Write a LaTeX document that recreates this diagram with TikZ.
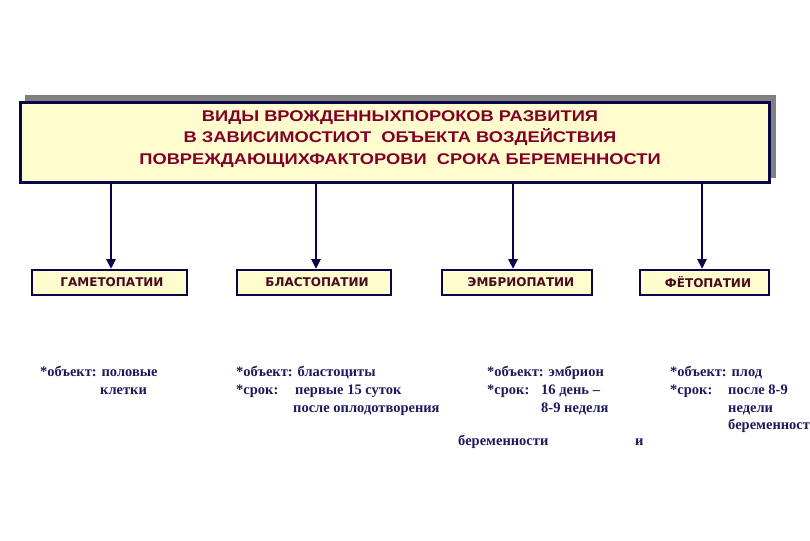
\documentclass[tikz,border=0pt]{standalone}
\usepackage{fontspec}
\setmainfont{Liberation Serif}
\newfontfamily\titlefont[FakeStretch=1.18]{Liberation Sans}
\newfontfamily\boxfont{DejaVu Sans}
\usetikzlibrary{arrows.meta}
\definecolor{navy}{HTML}{0A0548}
\definecolor{paleyel}{HTML}{FFFDCD}
\definecolor{titlered}{HTML}{800028}
\definecolor{boxtext}{HTML}{4A0A20}
\definecolor{bodytext}{HTML}{1C1A5C}
\definecolor{shadowgray}{HTML}{808080}
\tikzset{
  mainbox/.style={draw=navy, fill=paleyel, line width=3pt, minimum width=749pt, minimum height=80pt, inner sep=0pt},
  kindbox/.style={draw=navy, fill=paleyel, line width=2pt, minimum height=25pt, inner sep=0pt,
    font=\boxfont\bfseries\fontsize{12}{14}\selectfont, text=boxtext},
  titletext/.style={align=center, text=titlered, font=\titlefont\bfseries\fontsize{15.5}{21.5}\selectfont},
  body/.style={anchor=base west, inner sep=0pt, text=bodytext, font=\bfseries\fontsize{14.5}{18}\selectfont},
  link/.style={draw=navy, line width=2.8pt, -{Triangle[width=9pt,length=10pt]}}
}
\begin{document}
\begin{tikzpicture}[x=1pt,y=-1pt]
\path[use as bounding box, fill=white] (0,0) rectangle (810,540);
% shadow
\fill[shadowgray] (25,95) rectangle (776,178);
% main box
\node[mainbox] (main) at (395,142.5) {};
\node[titletext] (title) at (400,139) {ВИДЫ ВРОЖДЕННЫХПОРОКОВ РАЗВИТИЯ\\В ЗАВИСИМОСТИОТ\ \ ОБЪЕКТА ВОЗДЕЙСТВИЯ\\ПОВРЕЖДАЮЩИХФАКТОРОВИ\ \ СРОКА БЕРЕМЕННОСТИ};
% kind boxes
\node[kindbox, minimum width=155pt] (g) at (109.5,282.5) {\raisebox{-1.5pt}{\hspace*{5pt}ГАМЕТОПАТИИ}};
\node[kindbox, minimum width=154pt] (b) at (314,282.5) {\raisebox{-1.5pt}{\hspace*{6pt}БЛАСТОПАТИИ}};
\node[kindbox, minimum width=150pt] (e) at (517,282.5) {\raisebox{-1.5pt}{\hspace*{8pt}ЭМБРИОПАТИИ}};
\node[kindbox, minimum width=129pt] (f) at (704.5,282.5) {\raisebox{-1.5pt}{\hspace*{7pt}ФЁТОПАТИИ}};
% arrow starts
\coordinate (s1) at (111,184);
\coordinate (s2) at (316,184);
\coordinate (s3) at (513,184);
\coordinate (s4) at (702,184);
\draw[link] (s1) -- (s1 |- g.north);
\draw[link] (s2) -- (s2 |- b.north);
\draw[link] (s3) -- (s3 |- e.north);
\draw[link] (s4) -- (s4 |- f.north);
% body texts
\node[body] (t1a) at (40,376) {*объект: половые};
\node[body] (t1b) at (100,394) {клетки};
\node[body] (t2a) at (236,376) {*объект: бластоциты};
\node[body] (t2b) at (236,394) {*срок:};
\node[body] (t2c) at (295,394) {первые 15 суток};
\node[body] (t2d) at (293,412) {после оплодотворения};
\node[body] (t3a) at (487,376) {*объект: эмбрион};
\node[body] (t3b) at (487,394) {*срок:};
\node[body] (t3c) at (541,394) {16 день –};
\node[body] (t3d) at (541,412) {8-9 неделя};
\node[body] (t3e) at (458,445) {беременности};
\node[body] (t3f) at (635,445) {и};
\node[body] (t4a) at (670,376) {*объект: плод};
\node[body] (t4b) at (670,394) {*срок:};
\node[body] (t4c) at (728,394) {после 8-9};
\node[body] (t4d) at (728,412) {недели};
\node[body] (t4e) at (728,429) {беременност};
\end{tikzpicture}
\end{document}
